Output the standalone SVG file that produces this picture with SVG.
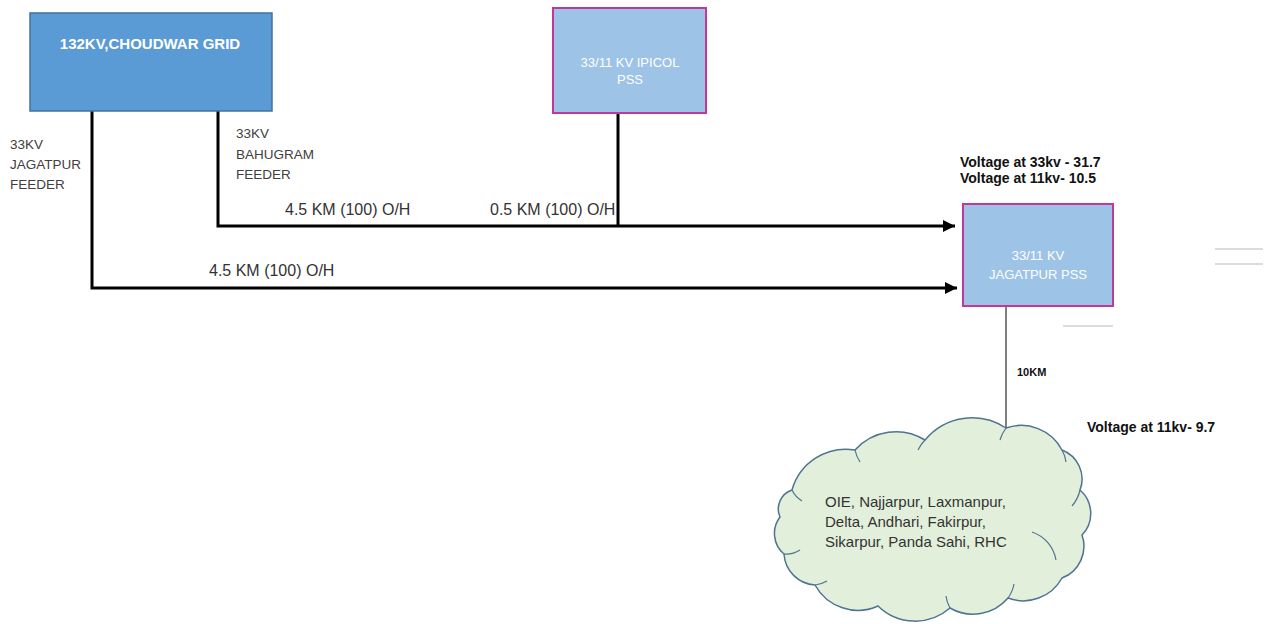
<svg xmlns="http://www.w3.org/2000/svg" width="1272" height="624" viewBox="0 0 1272 624">
<defs>
<marker id="arr" viewBox="0 0 10 10" refX="10" refY="5" markerWidth="4" markerHeight="4" orient="auto" markerUnits="strokeWidth">
<path d="M0,0 L10,5 L0,10 Z" fill="#000"/>
</marker>
<style>
.lbl{font-family:"Liberation Sans",Arial,sans-serif;font-size:13.5px;fill:#404040}
.area{font-family:"Liberation Sans",Arial,sans-serif;font-size:15px;fill:#333}
.km{font-family:"Liberation Sans",Arial,sans-serif;font-size:16px;fill:#333}
.volt{font-family:"Liberation Sans",Arial,sans-serif;font-size:14px;font-weight:bold;fill:#111}
.wt{font-family:"Liberation Sans",Arial,sans-serif;fill:#fff;text-anchor:middle}
.pss{fill:#9DC3E6;stroke:#C0399A;stroke-width:2}
.conn{stroke:#000;stroke-width:3;fill:none}
.faint{stroke:#d0d0d0;stroke-width:1.5}
.cl{fill:none;stroke:#4F7391;stroke-width:1.2}
</style>
</defs>
<rect width="1272" height="624" fill="#fff"/>

<g id="connectors">
<path class="conn" d="M92,111 V288 H957" marker-end="url(#arr)"/>
<path class="conn" d="M218,111 V226 H955" marker-end="url(#arr)"/>
<path class="conn" d="M618,113 V227"/>
<path d="M1006,307 V428" stroke="#555" stroke-width="1.5" fill="none"/>
</g>

<g id="grid">
<rect x="30" y="13" width="242" height="98" fill="#5B9BD5" stroke="#41719C" stroke-width="1.5"/>
<text class="wt" x="150" y="49" font-size="15" font-weight="bold">132KV,CHOUDWAR GRID</text>
</g>

<g id="ipicol">
<rect class="pss" x="553" y="8" width="153" height="105"/>
<text class="wt" x="630" y="67" font-size="13">33/11 KV IPICOL</text>
<text class="wt" x="630" y="84" font-size="13">PSS</text>
</g>

<g id="jagatpur">
<rect class="pss" x="963" y="204" width="150" height="102"/>
<text class="wt" x="1038" y="260" font-size="13">33/11 KV</text>
<text class="wt" x="1038" y="279" font-size="13">JAGATPUR PSS</text>
</g>

<g id="areas">
<path d="M792,490 A56,56 0 0 1 855,450 A55,55 0 0 1 925,440 A61,61 0 0 1 1006,428 A46,46 0 0 1 1062,450 A31,31 0 0 1 1080,490 A31,31 0 0 1 1082,535 A34,34 0 0 1 1062,578 A44,44 0 0 1 1008,598 A46,46 0 0 1 950,608 A53,53 0 0 1 878,606 A49,49 0 0 1 815,585 A33,33 0 0 1 784,554 A27,27 0 0 1 780,517 A20,20 0 0 1 792,490 Z" fill="#E2EFDA" stroke="#4F7391" stroke-width="1.5"/>
<path class="cl" d="M1032,532 A36,36 0 0 1 1056,560 M1008,598 A34,34 0 0 0 1014,584 M950,608 A30,30 0 0 1 946,596 M815,585 A30,30 0 0 0 827,581 M784,554 A26,26 0 0 0 800,550 M792,490 A26,26 0 0 0 802,501 M855,450 A34,34 0 0 0 860,462 M925,440 A36,36 0 0 0 918,450 M1006,428 A40,40 0 0 0 1000,440 M1062,450 A34,34 0 0 1 1066,462 M1080,490 A36,36 0 0 1 1072,506"/>
<text class="area" x="825" y="507">OIE, Najjarpur, Laxmanpur,</text>
<text class="area" x="825" y="527">Delta, Andhari, Fakirpur,</text>
<text class="area" x="825" y="547">Sikarpur, Panda Sahi, RHC</text>
</g>

<g id="labels">
<text class="lbl" x="10" y="149">33KV</text>
<text class="lbl" x="10" y="169">JAGATPUR</text>
<text class="lbl" x="10" y="189">FEEDER</text>
<text class="lbl" x="236" y="138">33KV</text>
<text class="lbl" x="236" y="159">BAHUGRAM</text>
<text class="lbl" x="236" y="179">FEEDER</text>
<text class="km" x="285" y="215">4.5 KM (100) O/H</text>
<text class="km" x="490" y="215">0.5 KM (100) O/H</text>
<text class="km" x="209" y="276">4.5 KM (100) O/H</text>
<text class="volt" x="960" y="167">Voltage at 33kv - 31.7</text>
<text class="volt" x="960" y="183">Voltage at 11kv- 10.5</text>
<text class="volt" x="1017" y="376" style="font-size:11px">10KM</text>
<text class="volt" x="1087" y="432">Voltage at 11kv- 9.7</text>
</g>

<g id="marks">
<line class="faint" x1="1215" y1="249" x2="1263" y2="249"/>
<line class="faint" x1="1215" y1="264" x2="1263" y2="264"/>
<line class="faint" x1="1063" y1="326" x2="1113" y2="326"/>
</g>
</svg>
